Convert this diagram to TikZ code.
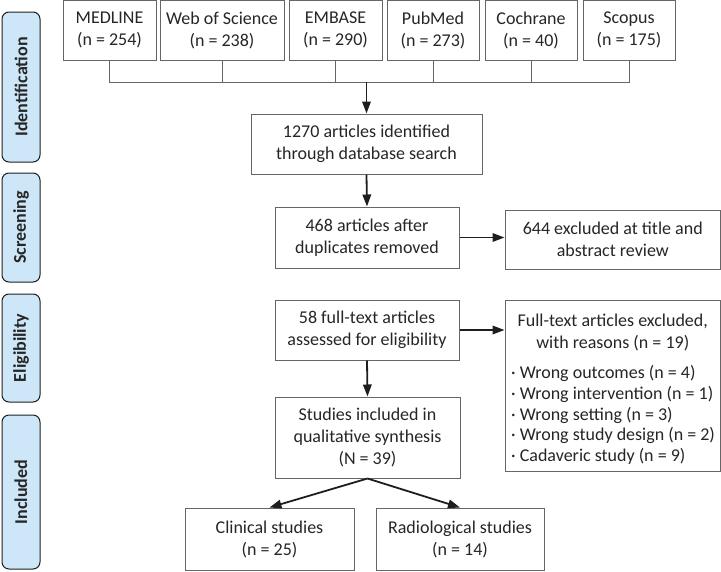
\documentclass[tikz,border=0pt]{standalone}
\usepackage{fontspec}
\setmainfont{Carlito}
\usetikzlibrary{arrows.meta}
\definecolor{boxline}{HTML}{666666}
\definecolor{txt}{HTML}{262626}
\definecolor{phasefill}{HTML}{CDE7F9}
\definecolor{arr}{HTML}{1E1E1E}
\tikzset{
  box/.style={draw=boxline, line width=1pt, fill=white, text=txt, align=center, inner sep=0pt,
    font=\fontsize{18}{22}\selectfont},
  plain/.style={text=txt, inner sep=0pt, font=\fontsize{18}{22}\selectfont},
  phase/.style={draw=arr, line width=1pt, fill=phasefill, rounded corners=7pt,
    inner sep=0pt},
  phasetext/.style={rotate=90, text=txt, font=\fontsize{18}{21}\selectfont\bfseries},
  flow/.style={draw=arr, line width=1.8pt, -{Triangle[length=12pt,width=8.5pt]}},
  link/.style={draw=boxline, line width=1pt}
}
\begin{document}
\begin{tikzpicture}[x=1pt,y=-1pt]
\useasboundingbox (0,0) rectangle (721,571);
% phase bars
\node[phase, minimum width=38pt, minimum height=150pt] (p1) at (21,87) {};
\node[phasetext] (p1t) at (p1.center) {Identification};
\node[phase, minimum width=38pt, minimum height=109pt] (p2) at (21,227.5) {};
\node[phasetext] (p2t) at (p2.center) {Screening};
\node[phase, minimum width=38pt, minimum height=108pt] (p3) at (21,348) {};
\node[phasetext] (p3t) at (p3.center) {Eligibility};
\node[phase, minimum width=38pt, minimum height=154pt] (p4) at (21,492) {};
\node[phasetext] (p4t) at (p4.center) {Included};
% sources
\node[box, minimum width=93pt, minimum height=59.5pt] (s1) at (109.5,30.25) {MEDLINE\\(n = 254)};
\node[box, minimum width=124pt, minimum height=59.5pt] (s2) at (222,30.25) {Web of Science\\(n = 238)};
\node[box, minimum width=93pt, minimum height=59.5pt] (s3) at (335.5,30.25) {EMBASE\\(n = 290)};
\node[box, minimum width=92pt, minimum height=59.5pt] (s4) at (433,30.25) {PubMed\\(n = 273)};
\node[box, minimum width=92pt, minimum height=59.5pt] (s5) at (531,30.25) {Cochrane\\(n = 40)};
\node[box, minimum width=92pt, minimum height=59.5pt] (s6) at (629,30.25) {Scopus\\(n = 175)};
\coordinate (bl) at (109.5,82);
\coordinate (br) at (629,82);
\coordinate (bm) at (366.5,82);
\draw[link] (s1.south) -- (bl) -- (br) -- (s6.south);
\foreach \s in {s2,s3,s4,s5} \draw[link] (\s.south) -- (\s.south |- bl);
% main column
\node[box, minimum width=231pt, minimum height=60pt] (id) at (366.5,144) {1270 articles identified\\through database search};
\node[box, minimum width=184pt, minimum height=61pt] (dup) at (367,237.5) {468 articles after\\duplicates removed};
\node[box, minimum width=215.5pt, minimum height=59pt] (ex1) at (612.75,239.5) {644 excluded at title and\\abstract review};
\node[box, minimum width=184pt, minimum height=60pt] (ft) at (367,330) {58 full-text articles\\assessed for eligibility};
\node[box, minimum width=215.5pt, minimum height=171pt] (ex2) at (612.75,385.5) {};
\node[plain, align=center] (ex2a) at (612.75,332) {Full-text articles excluded,\\with reasons (n = 19)};
\node[plain, align=left, anchor=west, font=\fontsize{18}{20.8}\selectfont] (ex2b) at (511,415)
  {· Wrong outcomes (n = 4)\\
   · Wrong intervention (n = 1)\\
   · Wrong setting (n = 3)\\
   · Wrong study design (n = 2)\\
   · Cadaveric study (n = 9)};
\node[box, minimum width=185pt, minimum height=81pt] (inc) at (367.5,437.5) {Studies included in\\qualitative synthesis\\(N = 39)};
\node[box, minimum width=169pt, minimum height=62pt] (clin) at (269.5,539) {Clinical studies\\(n = 25)};
\node[box, minimum width=168pt, minimum height=62pt] (rad) at (460,539) {Radiological studies\\(n = 14)};
% arrows
\draw[flow] (bm) -- (id.north);
\draw[flow] (id.south) -- (dup.north);
\draw[flow] (dup.east) -- (ex1.west |- dup.east);
\draw[flow] (ft.south) -- (inc.north);
\draw[flow] (ft.east) -- (ex2.west |- ft.east);
\draw[flow] (inc.south) -- (clin.north);
\draw[flow] (inc.south) -- (rad.north);
\end{tikzpicture}
\end{document}
